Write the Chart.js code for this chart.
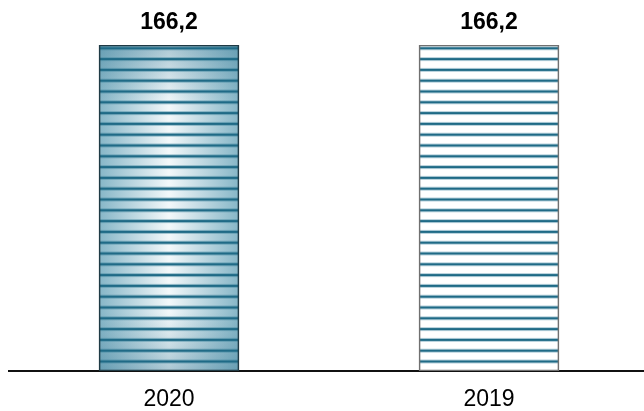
<!DOCTYPE html>
<html>
<head>
<meta charset="utf-8">
<script src="https://cdn.jsdelivr.net/npm/chart.js@4/dist/chart.umd.min.js"></script>
<style>
  html, body { margin: 0; padding: 0; background: #fff; overflow: hidden; width: 644px; height: 411px; }
  #wrap { width: 649px; height: 411px; }
</style>
</head>
<body>
<div id="wrap"><canvas id="c" width="649" height="411"></canvas></div>
<script>
// Years on the category axis and their values
const categories = ['2020', '2019'];
const values = [166.2, 166.2];
// Fill style of each bar: shaded or plain striped
const barStyles = ['shaded', 'plain'];

const FONT = "Arial, 'Liberation Sans', sans-serif";

function fmt(v) {
  return v.toFixed(1).replace('.', ',');
}

// Paints the striped fill inside each bar rectangle before Chart.js strokes its border
const stripedFill = {
  id: 'stripedFill',
  beforeDatasetsDraw(chart) {
    const ctx = chart.ctx;
    const meta = chart.getDatasetMeta(0);
    meta.data.forEach((bar, i) => {
      const p = bar.getProps(['x', 'y', 'base', 'width'], true);
      const left = p.x - p.width / 2, right = p.x + p.width / 2;
      const top = Math.min(p.y, p.base), bottom = Math.max(p.y, p.base);
      const w = right - left, h = bottom - top;
      ctx.save();
      ctx.beginPath();
      ctx.rect(left, top, w, h);
      ctx.clip();
      if (barStyles[i] === 'shaded') {
        const gh = ctx.createLinearGradient(left, 0, right, 0);
        gh.addColorStop(0, '#86b6c7');
        gh.addColorStop(0.5, '#f3f8fa');
        gh.addColorStop(1, '#86b6c7');
        ctx.fillStyle = gh;
        ctx.fillRect(left, top, w, h);
        const gv = ctx.createLinearGradient(0, top, 0, bottom);
        gv.addColorStop(0, 'rgba(40,110,140,0.35)');
        gv.addColorStop(0.18, 'rgba(40,110,140,0.0)');
        gv.addColorStop(0.82, 'rgba(40,110,140,0.0)');
        gv.addColorStop(1, 'rgba(40,110,140,0.35)');
        ctx.fillStyle = gv;
        ctx.fillRect(left, top, w, h);
      } else {
        ctx.fillStyle = '#ffffff';
        ctx.fillRect(left, top, w, h);
      }
      const period = 10.8;
      for (let y = top + 3.3; y < bottom - 2; y += period) {
        ctx.fillStyle = barStyles[i] === 'shaded' ? 'rgba(60,130,155,0.45)' : 'rgba(120,170,190,0.55)';
        ctx.fillRect(left, y - 2, w, 4);
        ctx.fillStyle = '#1f6a86';
        ctx.fillRect(left, y - 1, w, 2);
      }
      ctx.restore();
    });
  },
  afterDatasetsDraw(chart) {
    const ctx = chart.ctx;
    const meta = chart.getDatasetMeta(0);
    ctx.save();
    ctx.fillStyle = '#000';
    ctx.font = 'bold 23px ' + FONT;
    ctx.textAlign = 'center';
    ctx.textBaseline = 'alphabetic';
    meta.data.forEach((bar, i) => {
      ctx.fillText(fmt(values[i]), bar.x, bar.y - 16.5);
    });
    ctx.restore();
  }
};

new Chart(document.getElementById('c'), {
  type: 'bar',
  data: {
    labels: categories,
    datasets: [{
      data: values,
      backgroundColor: 'rgba(0,0,0,0)',
      borderColor: ['#1f3a45', '#707070'],
      borderWidth: 1,
      borderSkipped: false,
      barThickness: 140
    }]
  },
  options: {
    responsive: false,
    animation: false,
    layout: { padding: { left: 9, right: 0, top: 45, bottom: 0 } },
    plugins: { legend: { display: false }, tooltip: { enabled: false } },
    scales: {
      x: {
        grid: { display: false, drawTicks: false },
        border: { display: true, color: '#111', width: 2 },
        ticks: { color: '#000', font: { family: FONT, size: 23 }, padding: 15 },
        afterFit(scale) { scale.height = 40; }
      },
      y: {
        display: false,
        min: 0,
        max: 166.2
      }
    }
  },
  plugins: [stripedFill]
});
</script>
</body>
</html>
